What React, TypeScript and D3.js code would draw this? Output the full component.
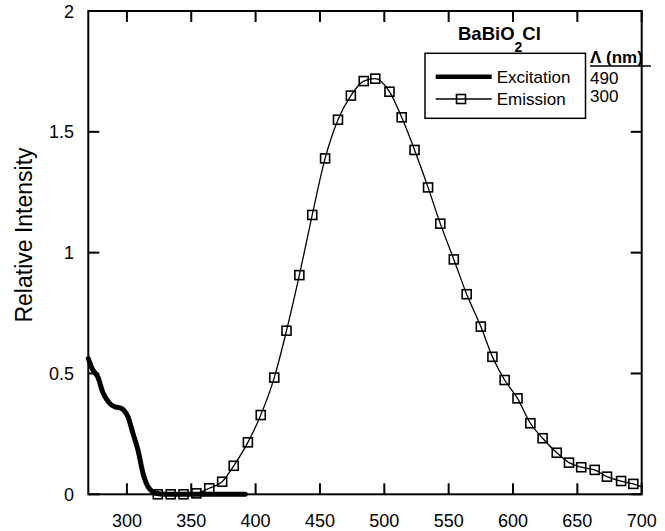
import React from "react";
import * as d3 from "d3";

// Excitation spectrum (monitored at 490 nm)
const excitationWavelength = [270, 273, 277.5, 281.4, 284, 287.9, 291, 295.6, 298, 300.8, 304.7, 308.6, 312.5, 316.4, 319, 321.6, 326, 330, 392];
const excitationIntensity = [0.562, 0.52, 0.484, 0.42, 0.395, 0.37, 0.362, 0.356, 0.345, 0.321, 0.252, 0.183, 0.087, 0.031, 0.015, 0.006, 0.001, 0, 0];

// Emission spectrum (excited at 300 nm)
const emissionWavelength = [320, 324, 334, 344, 354, 364, 374, 383, 394, 404, 414.5, 424, 434, 444, 454, 464, 474, 484, 493, 504, 513.5, 523.5, 534, 543.5, 554, 564, 575, 584, 593.5, 603.5, 613.5, 623, 634, 643.5, 653, 663.5, 673, 684, 693.5, 700];
const emissionIntensity = [0, 0, 0, 0, 0.004, 0.025, 0.052, 0.118, 0.215, 0.328, 0.483, 0.677, 0.907, 1.156, 1.39, 1.55, 1.65, 1.71, 1.72, 1.666, 1.56, 1.425, 1.27, 1.12, 0.972, 0.828, 0.694, 0.569, 0.473, 0.397, 0.294, 0.232, 0.172, 0.131, 0.112, 0.101, 0.073, 0.055, 0.043, 0.031];

const xTicks = [300, 350, 400, 450, 500, 550, 600, 650, 700];
const yTicks = [0, 0.5, 1, 1.5, 2];
const yTickLabels = ["0", "0.5", "1", "1.5", "2"];
const legendLabels = ["Excitation", "Emission"];
const lambdaValues = ["490", "300"];

const FONT = "'Liberation Sans', Arial, Helvetica, sans-serif";

export default function App() {
  const W = 665, H = 531;
  const left = 88.3, right = 641.7, top = 11, bottom = 494.3;
  const x = d3.scaleLinear().domain([270, 700]).range([left, right]);
  const y = d3.scaleLinear().domain([0, 2]).range([bottom, top]);

  const exData = excitationWavelength.map((w, i) => [w, excitationIntensity[i]] as [number, number]);
  const emData = emissionWavelength.map((w, i) => [w, emissionIntensity[i]] as [number, number]);
  const markerData = emData.slice(1, emData.length - 1);

  const exLine = d3.line<[number, number]>().x(d => x(d[0])).y(d => y(d[1])).curve(d3.curveMonotoneX);
  const emLine = d3.line<[number, number]>().x(d => x(d[0])).y(d => y(d[1])).curve(d3.curveMonotoneX);

  const tickLen = 11;
  const ms = 9;

  return (
    <svg width={W} height={H} style={{ position: "absolute", left: 0, top: 0, background: "#fff" }} fontFamily={FONT}>
      <rect x={0} y={0} width={W} height={H} fill="#fff" />
      {/* data */}
      <path d={exLine(exData) || ""} fill="none" stroke="#000" strokeWidth={5} strokeLinejoin="round" strokeLinecap="round" />
      <path d={emLine(emData) || ""} fill="none" stroke="#000" strokeWidth={1.3} />
      {markerData.map((d, i) => (
        <rect key={i} x={x(d[0]) - ms / 2} y={y(d[1]) - ms / 2} width={ms} height={ms} fill="none" stroke="#000" strokeWidth={1.6} />
      ))}

      {/* frame */}
      <rect x={left} y={top} width={right - left} height={bottom - top} fill="none" stroke="#000" strokeWidth={2} />
      {xTicks.map(t => (
        <g key={"x" + t}>
          <line x1={x(t)} x2={x(t)} y1={bottom} y2={bottom - tickLen} stroke="#000" strokeWidth={2} />
          <line x1={x(t)} x2={x(t)} y1={top} y2={top + tickLen} stroke="#000" strokeWidth={2} />
          <text x={x(t)} y={527} textAnchor="middle" fontSize={18}>{t}</text>
        </g>
      ))}
      {yTicks.map((t, i) => (
        <g key={"y" + t}>
          <line x1={left} x2={left + tickLen} y1={y(t)} y2={y(t)} stroke="#000" strokeWidth={2} />
          <line x1={right} x2={right - tickLen} y1={y(t)} y2={y(t)} stroke="#000" strokeWidth={2} />
          <text x={74} y={y(t) + 6.5} textAnchor="end" fontSize={18}>{yTickLabels[i]}</text>
        </g>
      ))}
      <text transform="translate(32,235) rotate(-90)" textAnchor="middle" fontSize={23}>Relative Intensity</text>

      {/* title */}
      <text x={458} y={40} fontSize={18.5} fontWeight="bold">
        BaBiO<tspan dy={12} fontSize={14}>2</tspan><tspan dy={-12}>Cl</tspan>
      </text>

      {/* legend */}
      <rect x={425} y={53.3} width={160.5} height={65} fill="#fff" stroke="#000" strokeWidth={1.5} />
      <line x1={435.7} x2={491.7} y1={76.7} y2={76.7} stroke="#000" strokeWidth={4.5} />
      <text x={496.7} y={82.5} fontSize={17}>{legendLabels[0]}</text>
      <line x1={435.7} x2={491.7} y1={99} y2={99} stroke="#000" strokeWidth={1.3} />
      <rect x={461 - ms / 2} y={99 - ms / 2} width={ms} height={ms} fill="none" stroke="#000" strokeWidth={1.6} />
      <text x={496.7} y={105} fontSize={17}>{legendLabels[1]}</text>

      <text x={590} y={63.3} fontSize={17} fontWeight="bold">Λ (nm)</text>
      <line x1={590} x2={651} y1={66} y2={66} stroke="#000" strokeWidth={1.5} />
      <text x={590} y={83.5} fontSize={17}>{lambdaValues[0]}</text>
      <text x={590} y={101.8} fontSize={17}>{lambdaValues[1]}</text>
    </svg>
  );
}
